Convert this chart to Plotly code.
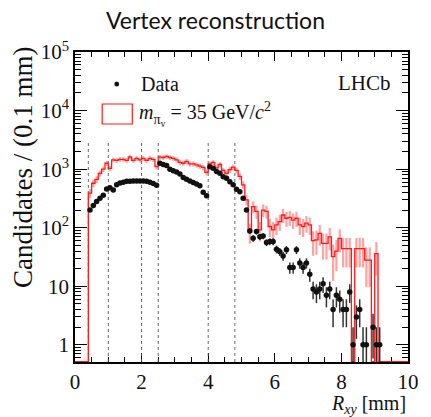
import numpy as np
import plotly.graph_objects as go

# ---------------- data ----------------
bin_width = 0.1
first_bin_low = 0.4
x_range = [0, 10]

data_counts = [
    200, 240, 280, 320, 360, 460, 480, 440, 540, 580,
    600, 620, 620, 625, 630, 630, 630, 620, 600, 570,
    530,
    1260, 1200, 1150, 1000, 940, 890, 830, 720, 670, 630,
    590, 560, 520, 405, 350,
    1100, 1040, 910, 850, 740, 700, 610, 540,
    455, 410, 320, 200, 88, 66, 86, 70, 72, 56, 58, 58,
    43, 39, 33, 42, 21, 21, 42, 25, 21, 25,
    16, 9, 8, 9, 11, 7, 9, 4, 7, 6,
    4, 4, 8, 1, 3, 4, 1, 1, 0, 2, 1, 1,
]

signal_counts = [
    390, 575, 670, 850, 1000, 1260, 1030, 1440, 1410, 1470,
    1470, 1410, 1620, 1410, 1530, 1440, 1530, 1410, 1530, 1470,
    1100,
    1600, 1580, 1650, 1580, 1530, 1440, 1300, 1260, 1360, 1230,
    1230, 1180, 1130, 1070, 880,
    1230, 1300, 1050, 1200, 950, 850, 980, 1080,
    950, 750, 540, 300, 85, 230, 190, 92, 200, 190, 105, 92,
    112, 127, 165, 145, 150, 135, 145, 112, 105, 120,
    112, 60, 62, 80, 54, 54, 70, 32, 40, 66,
    44, 44, 44, 0, 44, 44, 44, 28, 28, 0, 36, 0,
]
signal_weight = 12  # effective MC weight used for the simulation uncertainty

boundaries = [0.4, 1.0, 2.0, 2.5, 4.0, 4.8]
boundary_top = 3000

x_tickvals = [0, 2, 4, 6, 8, 10]
y_tickvals = [1, 10, 100, 1000, 10000, 100000]
y_ticktext = ["1", "10", "10<sup>2</sup>", "10<sup>3</sup>", "10<sup>4</sup>", "10<sup>5</sup>"]
y_min_value = 0.51
y_max_value = 1e5

# ---------------- derived ----------------
data_counts = np.array(data_counts, dtype=float)
signal_counts = np.array(signal_counts, dtype=float)
n = len(data_counts)
centers = first_bin_low + bin_width * (np.arange(n) + 0.5)

ylo = np.log10(y_min_value)
yhi = np.log10(y_max_value)
floor_val = 10 ** (ylo + 0.004)
clip_val = 0.3

m = data_counts > 0
dN = data_counts[m]
err_up = np.sqrt(dN)
err_dn = dN - np.maximum(dN - np.sqrt(dN), clip_val)

n_full = int(round((x_range[1] - x_range[0]) / bin_width))
edges = x_range[0] + bin_width * np.arange(n_full + 1)
full_vals = np.zeros(n_full)
i0 = int(round((first_bin_low - x_range[0]) / bin_width))
full_vals[i0:i0 + n] = signal_counts
step_y = np.where(full_vals > 0, full_vals, floor_val)
step_y = np.append(step_y, step_y[-1])

ms = signal_counts > 0
sN = signal_counts[ms]
s_err = np.sqrt(sN * signal_weight)
s_err_dn = sN - np.maximum(sN - s_err, clip_val)

bx, by = [], []
for b in boundaries:
    bx += [b, b, None]
    by += [y_min_value, boundary_top, None]

serif = "'Liberation Serif', 'Times New Roman', 'DejaVu Serif', serif"
RED = "#ff1a1a"
INK = "#111111"

fig = go.Figure()

fig.add_trace(go.Scatter(
    x=bx, y=by, mode="lines",
    line=dict(color="#555555", width=0.9, dash="dot"),
    showlegend=False, hoverinfo="skip"))

fig.add_trace(go.Scatter(
    x=centers[ms], y=sN, mode="markers",
    marker=dict(size=1, opacity=0),
    error_y=dict(type="data", symmetric=False, array=s_err, arrayminus=s_err_dn,
                 color="rgba(255,70,70,0.5)", thickness=2.2, width=0),
    showlegend=False, hoverinfo="skip"))

fig.add_trace(go.Scatter(
    x=edges, y=step_y, mode="lines", line_shape="hv",
    line=dict(color=RED, width=1.3),
    showlegend=False, hoverinfo="skip"))

fig.add_trace(go.Scatter(
    x=centers[m], y=dN, mode="markers",
    marker=dict(size=5.5, color=INK),
    error_y=dict(type="data", symmetric=False, array=err_up, arrayminus=err_dn,
                 color="#333333", thickness=1.5, width=0),
    showlegend=False, hoverinfo="skip"))

y_minor = [k * 10 ** d for d in range(-1, 5) for k in range(2, 10)
           if y_min_value <= k * 10 ** d <= y_max_value]

fig.update_layout(
    width=431, height=417,
    margin=dict(l=75, r=13, t=52, b=55),
    paper_bgcolor="white", plot_bgcolor="white",
    showlegend=False,
    title=dict(text="Vertex reconstruction", x=0.5, xanchor="center",
               y=1 - 21 / 417, yanchor="middle",
               font=dict(family="Lato", size=23, color=INK)),
    xaxis=dict(range=x_range, showgrid=False, zeroline=False,
               showline=True, linecolor="black", linewidth=1.5, mirror="allticks",
               ticks="inside", ticklen=9, tickwidth=1.2, tickcolor="black",
               tickvals=x_tickvals, tickfont=dict(family=serif, size=21, color=INK),
               minor=dict(ticks="inside", ticklen=5, tickwidth=1, tickcolor="black", dtick=0.5, showgrid=False),
               layer="below traces"),
    yaxis=dict(type="log", range=[ylo, yhi], showgrid=False, zeroline=False,
               showline=True, linecolor="black", linewidth=1.5, mirror="allticks",
               ticks="inside", ticklen=12, tickwidth=1.2, tickcolor="black",
               tickvals=y_tickvals, ticktext=y_ticktext,
               tickfont=dict(family=serif, size=21, color=INK),
               minor=dict(ticks="inside", ticklen=6, tickwidth=1, tickcolor="black",
                          tickvals=y_minor, showgrid=False),
               layer="below traces"),
)

fig.add_annotation(text="Candidates / (0.1 mm)", textangle=-90,
                   xref="paper", yref="paper", x=(21 - 75) / 343, y=(362 - 45) / 310,
                   xanchor="center", yanchor="top", showarrow=False,
                   font=dict(family=serif, size=27, color=INK))
fig.add_annotation(text="<i>R</i><sub><i>xy</i></sub> [mm]",
                   xref="paper", yref="paper", x=1.0, y=-(404 - 362) / 310,
                   xanchor="right", yanchor="middle", showarrow=False,
                   font=dict(family=serif, size=20, color=INK))

fig.add_shape(type="circle", xref="paper", yref="paper",
              x0=(115.5 - 75) / 343, x1=(120.5 - 75) / 343,
              y0=(362 - 86.5) / 310, y1=(362 - 81.5) / 310,
              fillcolor=INK, line=dict(width=0))
fig.add_annotation(text="Data", xref="paper", yref="paper",
                   x=(141 - 75) / 343, y=(362 - 84) / 310,
                   xanchor="left", yanchor="middle", showarrow=False,
                   font=dict(family=serif, size=20, color=INK))
fig.add_shape(type="rect", xref="paper", yref="paper",
              x0=(103 - 75) / 343, x1=(134 - 75) / 343,
              y0=(362 - 124) / 310, y1=(362 - 104) / 310,
              fillcolor="white", line=dict(color=RED, width=1.2))
fig.add_annotation(text="<i>m</i><sub>π<sub>v</sub></sub> = 35 GeV/<i>c</i><sup>2</sup>",
                   xref="paper", yref="paper",
                   x=(139 - 75) / 343, y=(362 - 114) / 310,
                   xanchor="left", yanchor="middle", showarrow=False,
                   font=dict(family=serif, size=20, color=INK))
fig.add_annotation(text="LHCb", xref="paper", yref="paper",
                   x=(403 - 75) / 343, y=(362 - 83) / 310,
                   xanchor="right", yanchor="middle", showarrow=False,
                   font=dict(family=serif, size=21, color=INK))

fig.write_html("out.html")
